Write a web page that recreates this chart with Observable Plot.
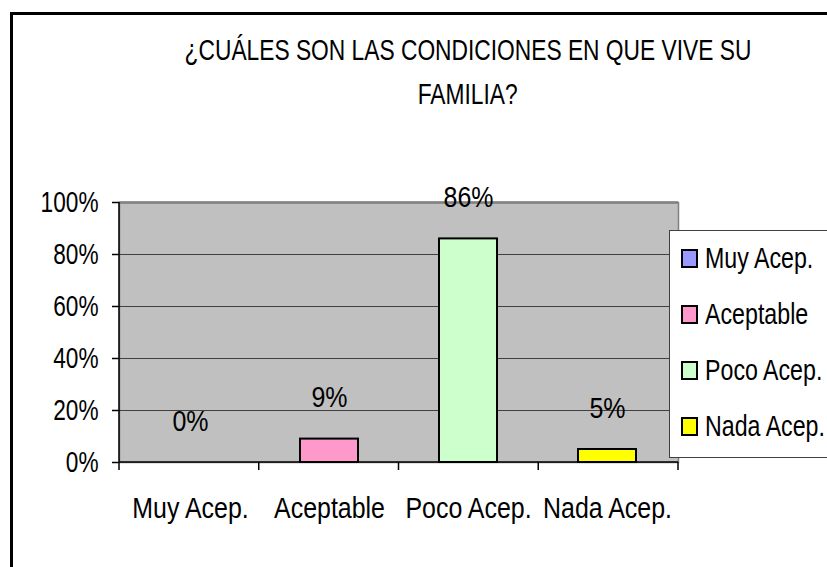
<!DOCTYPE html>
<html>
<head>
<meta charset="utf-8">
<script src="https://cdn.jsdelivr.net/npm/d3@7"></script>
<script src="https://cdn.jsdelivr.net/npm/@observablehq/plot@0.6"></script>
<style>
  html, body { margin: 0; padding: 0; background: #fff; }
  #wrap { position: relative; width: 827px; height: 567px; overflow: hidden; background: #fff;
          font-family: "Liberation Sans", Arial, sans-serif; color: #000; }
  #frame { position: absolute; left: 10px; top: 12px; width: 900px; height: 700px;
           border-left: 3px solid #000; border-top: 3px solid #000; box-sizing: border-box; }
  #title { position: absolute; left: 68px; width: 800px; top: 28px; text-align: center;
           font-size: 29px; line-height: 44px; }
  #title div { white-space: nowrap; }
  #title span { display: inline-block; transform: scaleX(0.785); transform-origin: center; }
  #chart { position: absolute; left: 0; top: 0; }
  #legend { position: absolute; left: 669px; top: 230px; width: 300px; height: 228px;
            background: #fff; border: 1px solid #404040; box-sizing: border-box; }
  .row { position: absolute; left: 11px; height: 30px; display: flex; align-items: center; font-size: 29px; white-space: nowrap; }
  .row span { display: inline-block; transform: scaleX(0.8); transform-origin: left center; }
  .sw { width: 13px; height: 15px; border: 2px solid #000; margin-right: 7px; flex: none; }
</style>
</head>
<body>
<div id="wrap">
  <div id="frame"></div>
  <div id="chart"></div>
  <div id="title"></div>
  <div id="legend"></div>
</div>
<script>
const titleLines = ["¿CUÁLES SON LAS CONDICIONES EN QUE VIVE SU", "FAMILIA?"];
const categories = ["Muy Acep.", "Aceptable", "Poco Acep.", "Nada Acep."];
const values = [0, 0.09, 0.86, 0.05];
const valueLabels = ["0%", "9%", "86%", "5%"];
const colors = ["#9999FF", "#FF99CC", "#CCFFCC", "#FFFF00"];
const yTicks = [0, 0.2, 0.4, 0.6, 0.8, 1];

const data = categories.map((c, i) => ({cat: c, value: values[i], label: valueLabels[i]}));
const font = '"Liberation Sans", Arial, sans-serif';

const titleEl = document.getElementById("title");
titleLines.forEach(l => {
  const d = document.createElement("div");
  const s = document.createElement("span");
  s.textContent = l;
  d.appendChild(s);
  titleEl.appendChild(d);
});

// axis line and category boundary ticks
function boundaryTicks(index, scales, values, dims) {
  const g = d3.create("svg:g").attr("stroke", "#000").attr("stroke-width", 1.5);
  const x0 = dims.marginLeft, x1 = dims.width - dims.marginRight;
  const y0 = scales.y(0), yTop = scales.y(1);
  const n = categories.length;
  g.append("line").attr("x1", x0).attr("x2", x0).attr("y1", yTop).attr("y2", y0 + 8);
  g.append("line").attr("x1", x0).attr("x2", x1).attr("y1", y0).attr("y2", y0);
  for (let i = 1; i <= n; i++) {
    const x = x0 + i * (x1 - x0) / n;
    g.append("line").attr("x1", x).attr("x2", x).attr("y1", y0).attr("y2", y0 + 8);
  }
  return g.node();
}

const chart = Plot.plot({
  width: 827,
  height: 567,
  marginLeft: 119,
  marginRight: 149,
  marginTop: 202,
  marginBottom: 105,
  style: {fontFamily: font, fontSize: "29px", color: "#000", background: "transparent", overflow: "visible"},
  x: {domain: categories, paddingInner: 0.58, paddingOuter: 0.29, align: 0.5},
  y: {domain: [0, 1]},
  color: {domain: categories, range: colors},
  marks: [
    Plot.frame({fill: "#C0C0C0", stroke: "#808080", strokeWidth: 1.5}),
    Plot.ruleY(yTicks.slice(1, -1), {stroke: "#404040", strokeWidth: 1}),
    Plot.ruleY([1], {stroke: "#808080", strokeWidth: 2.5}),
    Plot.barY(data, {x: "cat", y: "value", fill: "cat", stroke: "#000", strokeWidth: 2}),
    Plot.text(data, {x: "cat", y: "value", text: "label", dy: -41, fontSize: 29, lineAnchor: "middle"}),
    Plot.axisY({ticks: yTicks, tickFormat: d3.format(".0%"), tickSize: 7, tickPadding: 14, fontSize: 29, label: null, strokeWidth: 1.5}),
    Plot.axisX({tickSize: 0, tickPadding: 35, fontSize: 29, label: null}),
    boundaryTicks
  ]
});
document.getElementById("chart").appendChild(chart);

// condense the glyphs horizontally (narrow face of the original)
chart.querySelectorAll("text").forEach(t => {
  const g = t.closest("g[aria-label]");
  const isY = g && g.getAttribute("aria-label") === "y-axis tick label";
  const k = isY ? 0.78 : 0.86;
  const len = t.getComputedTextLength();
  if (len > 0) {
    t.setAttribute("textLength", (len * k).toFixed(1));
    t.setAttribute("lengthAdjust", "spacingAndGlyphs");
  }
});

const legend = document.getElementById("legend");
const rowCenters = [27, 83, 139, 195];
categories.forEach((c, i) => {
  const row = document.createElement("div");
  row.className = "row";
  row.style.top = (rowCenters[i] - 15) + "px";
  const sw = document.createElement("div");
  sw.className = "sw";
  sw.style.background = colors[i];
  const t = document.createElement("span");
  t.textContent = c;
  row.appendChild(sw);
  row.appendChild(t);
  legend.appendChild(row);
});
</script>
</body>
</html>
